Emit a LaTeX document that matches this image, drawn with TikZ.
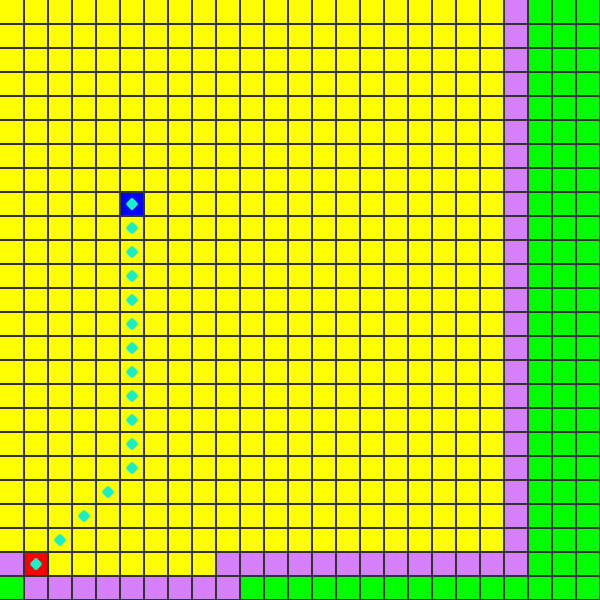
\documentclass[tikz,border=0pt]{standalone}
\usetikzlibrary{shapes.geometric}
\definecolor{floor}{RGB}{255,255,0}
\definecolor{wall}{RGB}{213,128,250}
\definecolor{grass}{RGB}{0,255,0}
\definecolor{start}{RGB}{255,0,0}
\definecolor{goal}{RGB}{0,0,255}
\definecolor{trail}{RGB}{25,240,200}
\definecolor{gridgray}{RGB}{51,51,51}
\tikzset{gridline/.style={gridgray, line width=1.2pt},
	waypoint/.style={diamond, fill=trail, inner sep=0pt, minimum width=0.28cm, minimum height=0.29cm, rounded corners=1.2pt}}

\begin{document}
\begin{tikzpicture}[x=0.5cm, y=-0.5cm]
	\useasboundingbox (0,0) rectangle (25,25);

	% terrain
	\fill[floor] (0,0) rectangle (25,25);
	\fill[wall] (21,0) rectangle (22,24);
	\fill[wall] (9,23) rectangle (21,24);
	\fill[wall] (0,23) rectangle (1,24);
	\fill[wall] (1,24) rectangle (10,25);
	\fill[grass] (22,0) rectangle (25,25);
	\fill[grass] (0,24) rectangle (1,25);
	\fill[grass] (10,24) rectangle (22,25);

	% start and goal
	\fill[start] (1,23) rectangle (2,24);
	\fill[goal] (5,8) rectangle (6,9);

	% grid
	\foreach \k in {1,...,25} {
		\draw[gridline] (\k,0) -- (\k,25);
		\draw[gridline] (0,\k) -- (25,\k);
	}

	% path
	\foreach \r in {8,...,19}
		\node[waypoint] (p\r) at (5.5,\r+0.5) {};
	\node[waypoint] (p20) at (4.5,20.5) {};
	\node[waypoint] (p21) at (3.5,21.5) {};
	\node[waypoint] (p22) at (2.5,22.5) {};
	\node[waypoint] (p23) at (1.5,23.5) {};

\end{tikzpicture}
\end{document}
